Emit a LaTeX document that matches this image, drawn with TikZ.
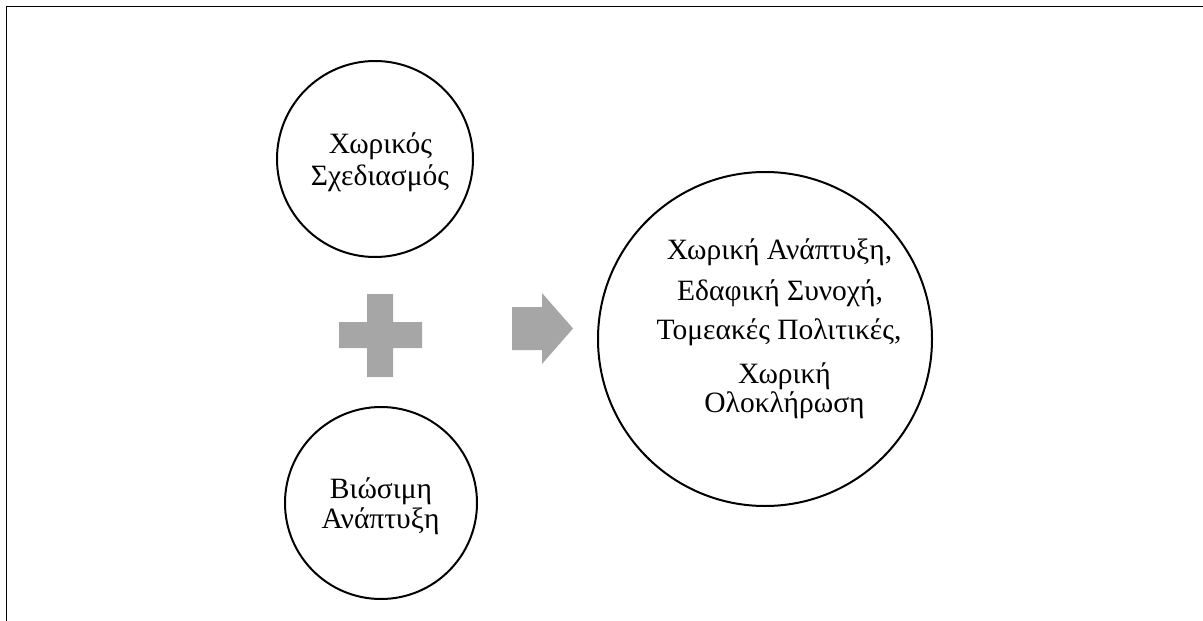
\documentclass[tikz,border=0pt]{standalone}
\usepackage{fontspec}
\setmainfont{Liberation Serif}
\definecolor{shapegray}{RGB}{166,166,166}
\tikzset{
  ring/.style={draw=black, circle, line width=2pt, inner sep=0pt},
  txt/.style={font=\fontsize{29.5}{26}\selectfont, anchor=base, inner sep=0pt, align=center},
  solidshape/.style={fill=shapegray, draw=none},
  framerule/.style={line width=1.3pt, black}
}
\begin{document}
\begin{tikzpicture}[x=1pt, y=-1pt]
  \useasboundingbox (0,0) rectangle (1203,621);

  % open frame: top and left edges
  \coordinate (ftr) at (1203,6.5);
  \coordinate (ftl) at (6.5,6.5);
  \coordinate (fbl) at (6.5,621);
  \draw[framerule] (ftr) -- (ftl) -- (fbl);

  % circles
  \node[ring, minimum size=196pt] (plan) at (375,159) {};
  \node[ring, minimum size=192pt] (sust) at (381,503) {};
  \node[ring, minimum size=334pt] (result) at (765,339) {};

  % labels (base anchor sits on the last line of each node)
  \node[txt] (plan1) at (380.5,153) {Χωρικός};
  \node[txt] (plan2) at (380,185) {Σχεδιασμός};

  \node[txt] (sust1) at (381,498) {Βιώσιμη};
  \node[txt] (sust2) at (380.5,528) {Ανάπτυξη};

  \node[txt] (res1) at (779.5,259) {Χωρική Ανάπτυξη,};
  \node[txt] (res2) at (780,300) {Εδαφική Συνοχή,};
  \node[txt] (res3) at (779,339) {Τομεακές Πολιτικές,};
  \node[txt] (res4) at (784.5,412) {Χωρική\\Ολοκλήρωση};

  % plus sign
  \fill[solidshape] (339,322) -- (367,322) -- (367,294) -- (393,294) -- (393,322)
    -- (422,322) -- (422,348) -- (393,348) -- (393,377) -- (367,377) -- (367,348)
    -- (339,348) -- cycle;

  % block arrow
  \fill[solidshape] (512,307) -- (542,307) -- (542,293) -- (573,328.5) -- (542,364)
    -- (542,350) -- (512,350) -- cycle;
\end{tikzpicture}
\end{document}
